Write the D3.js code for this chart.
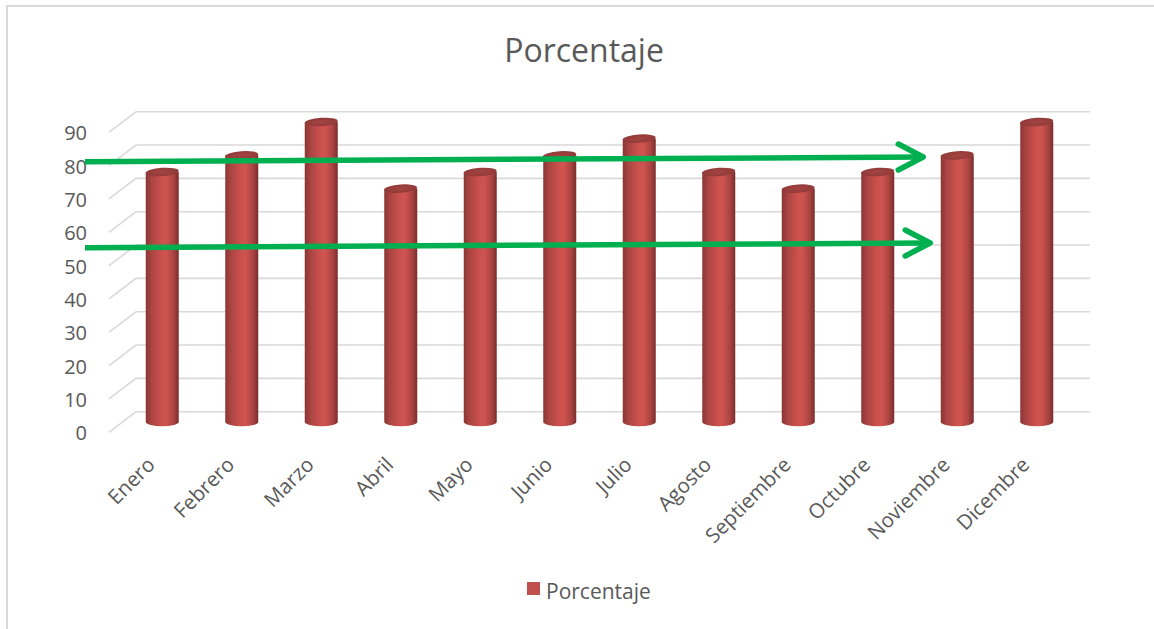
<!DOCTYPE html>
<html>
<head>
<meta charset="utf-8">
<script src="https://cdn.jsdelivr.net/npm/d3@7"></script>
<style>
  html, body { margin: 0; padding: 0; background: #fff; }
  svg { display: block; font-family: "Open Sans", "Noto Sans", sans-serif; }
</style>
</head>
<body>
<svg id="chart" width="1154" height="629"></svg>
<script>
// Monthly percentages
const months = ["Enero", "Febrero", "Marzo", "Abril", "Mayo", "Junio", "Julio",
                "Agosto", "Septiembre", "Octubre", "Noviembre", "Dicembre"];
const porcentaje = [75, 80, 90, 70, 75, 80, 85, 75, 70, 75, 80, 90];
const yTicks = [0, 10, 20, 30, 40, 50, 60, 70, 80, 90];
const seriesName = "Porcentaje";
// Highlight arrows, in value units (start level, end level)
const arrowLevels = [[78.1, 79.5], [52.3, 53.7]];

const W = 1154, H = 629;
const svg = d3.select("#chart");
const defs = svg.append("defs");

// 3D floor depth: half offset between the front edge and the back wall
const depthX = 13.5, depthY = 10.3;

// Scales at mid depth (where the cylinders stand)
const x = d3.scaleBand().domain(months).range([109 + depthX, 1063 + depthX]).paddingInner(0).paddingOuter(0);
const y = d3.scaleLinear().domain([0, 90]).range([422, 122]);

// Frame
svg.append("rect")
  .attr("x", 7).attr("y", 6).attr("width", W + 10).attr("height", H + 10)
  .attr("fill", "none").attr("stroke", "#d9d9d9").attr("stroke-width", 2);

// Title
svg.append("text")
  .attr("x", 584).attr("y", 62)
  .attr("text-anchor", "middle")
  .attr("font-size", 32).attr("fill", "#595959")
  .text(seriesName);

// Gridlines: slanted side wall + horizontal back wall
const grid = svg.append("g").attr("stroke", "#d9d9d9").attr("stroke-width", 1.6).attr("fill", "none");
const xLeftFront = x.range()[0] - depthX;
const xRightBack = x.range()[1] + depthX;
yTicks.forEach(v => {
  const yb = y(v) - depthY, yf = y(v) + depthY;
  grid.append("path")
    .attr("d", `M${xLeftFront},${yf} L${xLeftFront + 2 * depthX},${yb} L${xRightBack},${yb}`);
});

// Y axis labels
svg.append("g")
  .selectAll("text")
  .data(yTicks)
  .join("text")
  .attr("x", 87)
  .attr("y", d => y(d) + depthY + 1)
  .attr("dy", "0.35em")
  .attr("text-anchor", "end")
  .attr("font-size", 20)
  .attr("fill", "#595959")
  .text(d => d);

// Cylinder shading
const bodyGrad = defs.append("linearGradient").attr("id", "cylBody")
  .attr("x1", "0%").attr("x2", "100%").attr("y1", "0%").attr("y2", "0%");
[[0, "#8a3634"], [0.18, "#ab4542"], [0.5, "#cd524e"], [0.62, "#cf5450"], [0.85, "#a84341"], [1, "#7a2d2b"]]
  .forEach(([o, c]) => bodyGrad.append("stop").attr("offset", o).attr("stop-color", c));
const topGrad = defs.append("radialGradient").attr("id", "cylTop")
  .attr("cx", "50%").attr("cy", "50%").attr("r", "60%");
[[0, "#a34542"], [1, "#8e3836"]]
  .forEach(([o, c]) => topGrad.append("stop").attr("offset", o).attr("stop-color", c));

const rx = 16.5, ry = 4.2;
const bars = svg.append("g")
  .selectAll("g")
  .data(months.map((m, i) => ({ m, v: porcentaje[i] })))
  .join("g")
  .attr("transform", d => `translate(${x(d.m) + x.bandwidth() / 2},0)`);

bars.append("path")
  .attr("fill", "url(#cylBody)")
  .attr("d", d => {
    const yt = y(d.v), yb = y(0);
    return `M${-rx},${yt} L${-rx},${yb} A${rx},${ry} 0 0 0 ${rx},${yb} L${rx},${yt} Z`;
  });
bars.append("ellipse")
  .attr("cx", 0)
  .attr("cy", d => y(d.v))
  .attr("rx", rx).attr("ry", ry)
  .attr("transform", d => `rotate(-4,0,${y(d.v)})`)
  .attr("fill", "url(#cylTop)");

// X axis labels
svg.append("g")
  .selectAll("text")
  .data(months)
  .join("text")
  .attr("transform", d => `translate(${x(d) + x.bandwidth() / 2 - 6},466) rotate(-45)`)
  .attr("text-anchor", "end")
  .attr("font-size", 20.5)
  .attr("fill", "#595959")
  .text(d => d);

// Highlight arrows
const arrowG = svg.append("g")
  .attr("stroke", "#00b050").attr("stroke-width", 5.5)
  .attr("fill", "none").attr("stroke-linecap", "round").attr("stroke-linejoin", "round");
const tipX = [x("Noviembre") + x.bandwidth() / 2 - 34, x("Noviembre") + x.bandwidth() / 2 - 27];
arrowLevels.forEach(([a, b], i) => {
  const y0 = y(a), y1 = y(b);
  const x0 = 85, x1 = tipX[i];
  arrowG.append("line")
    .attr("x1", x0).attr("y1", y0).attr("x2", x1).attr("y2", y1)
    .attr("stroke-linecap", "butt");
  arrowG.append("path")
    .attr("d", `M${x1 - 25},${y1 - 13} L${x1},${y1} L${x1 - 25},${y1 + 13}`);
});

// Legend
const legend = svg.append("g").attr("transform", "translate(527,582)");
legend.append("rect").attr("width", 13).attr("height", 13).attr("fill", "#c0504d");
legend.append("text")
  .attr("x", 19).attr("y", 13 + 4)
  .attr("font-size", 21).attr("fill", "#595959")
  .text(seriesName);
</script>
</body>
</html>
